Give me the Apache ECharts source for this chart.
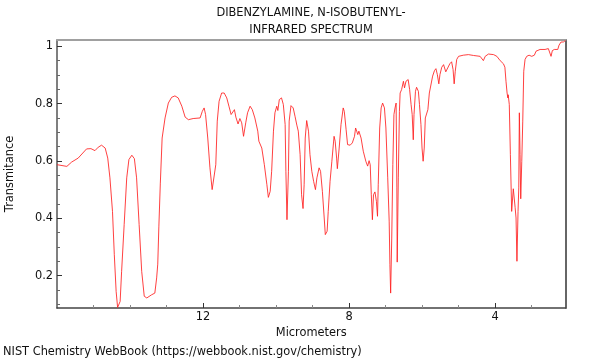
<!DOCTYPE html>
<html>
<head>
<meta charset="utf-8">
<script src="https://cdn.jsdelivr.net/npm/echarts@6/dist/echarts.min.js"></script>
<style>html,body{margin:0;padding:0;background:#fff}#c{width:600px;height:360px}</style>
</head>
<body>
<div id="c"></div>
<script>
var wavelength = [16.00,15.73,15.60,15.42,15.19,15.07,15.02,14.96,14.87,14.78,14.68,14.61,14.55,14.48,14.43,14.38,14.34,14.27,14.23,14.16,14.09,14.03,13.95,13.88,13.82,13.75,13.68,13.61,13.54,13.41,13.32,13.27,13.24,13.21,13.17,13.12,13.04,12.95,12.86,12.77,12.68,12.58,12.49,12.40,12.27,12.08,12.02,11.97,11.93,11.87,11.81,11.75,11.71,11.65,11.61,11.56,11.49,11.42,11.35,11.29,11.23,11.19,11.14,11.10,11.04,10.99,10.94,10.89,10.83,10.78,10.71,10.65,10.58,10.50,10.47,10.39,10.32,10.25,10.21,10.16,10.12,10.07,10.03,9.98,9.95,9.91,9.85,9.80,9.75,9.73,9.70,9.66,9.64,9.59,9.53,9.48,9.43,9.39,9.34,9.30,9.26,9.23,9.20,9.16,9.11,9.07,9.02,8.97,8.92,8.88,8.82,8.78,8.73,8.68,8.65,8.60,8.57,8.52,8.47,8.41,8.38,8.34,8.32,8.27,8.22,8.16,8.13,8.08,8.04,7.97,7.91,7.85,7.82,7.79,7.76,7.73,7.67,7.61,7.54,7.49,7.45,7.42,7.39,7.36,7.33,7.29,7.25,7.22,7.20,7.16,7.12,7.08,7.03,6.99,6.94,6.90,6.88,6.86,6.83,6.80,6.77,6.74,6.71,6.69,6.68,6.65,6.62,6.60,6.56,6.53,6.51,6.48,6.44,6.40,6.38,6.34,6.30,6.27,6.24,6.22,6.18,6.15,6.10,6.07,6.03,6.00,5.97,5.94,5.91,5.87,5.84,5.80,5.75,5.71,5.66,5.62,5.58,5.54,5.51,5.46,5.41,5.35,5.30,5.24,5.19,5.15,5.12,5.09,5.05,5.00,4.87,4.73,4.59,4.41,4.37,4.32,4.27,4.18,4.04,3.95,3.86,3.77,3.73,3.70,3.67,3.65,3.64,3.61,3.58,3.545,3.50,3.45,3.425,3.40,3.37,3.35,3.334,3.315,3.296,3.268,3.241,3.214,3.178,3.132,3.068,2.995,2.923,2.877,2.767,2.630,2.540,2.493,2.466,2.430,2.375,2.282,2.247,2.192,2.129,2.07];
var transmittance = [0.587,0.581,0.596,0.610,0.642,0.643,0.648,0.636,0.648,0.655,0.645,0.610,0.541,0.424,0.273,0.145,0.089,0.110,0.215,0.378,0.541,0.605,0.620,0.608,0.541,0.378,0.215,0.128,0.122,0.133,0.139,0.192,0.24,0.37,0.52,0.68,0.750,0.802,0.822,0.827,0.820,0.791,0.753,0.744,0.748,0.750,0.773,0.785,0.762,0.680,0.576,0.500,0.496,0.587,0.739,0.808,0.837,0.837,0.820,0.791,0.762,0.768,0.779,0.753,0.729,0.748,0.733,0.686,0.733,0.768,0.791,0.779,0.750,0.704,0.669,0.645,0.587,0.517,0.473,0.494,0.564,0.704,0.768,0.791,0.776,0.814,0.820,0.797,0.727,0.564,0.395,0.564,0.739,0.793,0.785,0.756,0.725,0.704,0.622,0.482,0.434,0.517,0.680,0.741,0.704,0.622,0.564,0.529,0.500,0.541,0.576,0.564,0.494,0.401,0.343,0.355,0.424,0.529,0.599,0.686,0.669,0.610,0.573,0.645,0.727,0.785,0.773,0.709,0.657,0.655,0.663,0.686,0.715,0.704,0.692,0.704,0.680,0.634,0.599,0.582,0.601,0.587,0.482,0.395,0.482,0.492,0.459,0.407,0.517,0.715,0.785,0.802,0.785,0.715,0.541,0.39,0.238,0.139,0.331,0.587,0.762,0.785,0.802,0.506,0.247,0.541,0.773,0.837,0.849,0.843,0.878,0.855,0.878,0.880,0.884,0.849,0.797,0.762,0.674,0.762,0.843,0.857,0.843,0.797,0.727,0.645,0.599,0.645,0.750,0.744,0.779,0.837,0.843,0.896,0.915,0.922,0.901,0.869,0.901,0.927,0.936,0.911,0.910,0.939,0.946,0.919,0.869,0.913,0.954,0.965,0.969,0.971,0.968,0.965,0.962,0.950,0.965,0.973,0.971,0.965,0.950,0.939,0.927,0.878,0.837,0.820,0.831,0.797,0.622,0.424,0.503,0.438,0.401,0.250,0.424,0.506,0.768,0.622,0.468,0.599,0.739,0.913,0.954,0.965,0.969,0.965,0.969,0.983,0.989,0.989,0.992,0.997,0.965,0.985,0.989,0.989,1.004,1.015,1.015,1.020];
var xMajorTicks = [4, 8, 12];
var xMinorTicks = [3, 5, 6, 7, 9, 10, 11, 13, 14, 15];
var yMajorTicks = [0.2, 0.4, 0.6, 0.8, 1];
var yMinorTicks = [0.1, 0.15, 0.25, 0.3, 0.35, 0.45, 0.5, 0.55, 0.65, 0.7, 0.75, 0.85, 0.9, 0.95];
var titleLines = ['DIBENZYLAMINE, N-ISOBUTENYL-', 'INFRARED SPECTRUM'];
var xName = 'Micrometers';
var yName = 'Transmitance';
var footer = 'NIST Chemistry WebBook (https://webbook.nist.gov/chemistry)';

var XMIN = 2.07, XMAX = 16, YMIN = 0.087, YMAX = 1.022;
var FONT = 'DejaVu Sans';
var FS = 11.4;

var pts = wavelength.map(function (w, i) { return [w, transmittance[i]]; });

var chart = echarts.init(document.getElementById('c'), null, {renderer: 'canvas'});
var hidden = {show: false};
chart.setOption({
  animation: false,
  backgroundColor: '#fff',
  textStyle: {fontFamily: FONT},
  grid: {left: 57, right: 34.5, top: 40, bottom: 52, containLabel: false, outerBoundsMode: 'none'},
  graphic: [
    {type: 'text', style: {text: titleLines[0], font: FS + 'px ' + FONT, fill: '#111', x: 311, y: 13, align: 'center', verticalAlign: 'middle'}},
    {type: 'text', style: {text: titleLines[1], font: FS + 'px ' + FONT, fill: '#111', x: 311, y: 30, align: 'center', verticalAlign: 'middle'}},
    {type: 'text', style: {text: footer, font: FS + 'px ' + FONT, fill: '#111', x: 3, y: 352, align: 'left', verticalAlign: 'middle'}}
  ],
  xAxis: [
    {type: 'value', inverse: true, min: XMIN, max: XMAX, position: 'bottom',
     name: xName, nameLocation: 'middle', nameGap: 18,
     nameTextStyle: {fontSize: FS, color: '#111', fontFamily: FONT},
     axisLine: {show: true, onZero: false, lineStyle: {color: '#444', width: 1.5}},
     axisTick: {show: true, inside: true, length: 5, customValues: xMajorTicks, lineStyle: {color: '#333'}},
     axisLabel: {show: true, customValues: xMajorTicks, margin: 4, fontSize: FS, color: '#111', fontFamily: FONT},
     splitLine: hidden},
    {type: 'value', inverse: true, min: XMIN, max: XMAX, position: 'bottom',
     axisLine: hidden,
     axisTick: {show: true, inside: true, length: 3, customValues: xMinorTicks, lineStyle: {color: '#888'}},
     axisLabel: {show: false, customValues: xMinorTicks},
     splitLine: hidden},
    {type: 'value', inverse: true, min: XMIN, max: XMAX, position: 'top',
     axisLine: {show: true, onZero: false, lineStyle: {color: '#a0a0a0', width: 2}},
     axisTick: hidden, axisLabel: hidden, splitLine: hidden}
  ],
  yAxis: [
    {type: 'value', min: YMIN, max: YMAX, position: 'left',
     name: yName, nameLocation: 'middle', nameGap: 41,
     nameTextStyle: {fontSize: FS, color: '#111', fontFamily: FONT},
     axisLine: {show: true, onZero: false, lineStyle: {color: '#555', width: 1.5}},
     axisTick: {show: true, inside: true, length: 5, customValues: yMajorTicks, lineStyle: {color: '#333'}},
     axisLabel: {show: true, customValues: yMajorTicks, margin: 4, fontSize: FS, color: '#111', fontFamily: FONT},
     splitLine: hidden},
    {type: 'value', min: YMIN, max: YMAX, position: 'left',
     axisLine: hidden,
     axisTick: {show: true, inside: true, length: 3, customValues: yMinorTicks, lineStyle: {color: '#666'}},
     axisLabel: {show: false, customValues: yMinorTicks},
     splitLine: hidden},
    {type: 'value', min: YMIN, max: YMAX, position: 'right',
     axisLine: {show: true, onZero: false, lineStyle: {color: '#666', width: 2}},
     axisTick: hidden, axisLabel: hidden, splitLine: hidden}
  ],
  series: [{
    type: 'line', xAxisIndex: 0, yAxisIndex: 0, data: pts,
    showSymbol: false, symbol: 'none', clip: true,
    lineStyle: {color: '#ff2020', width: 1, opacity: 0.85}
  }]
});
</script>
</body>
</html>
